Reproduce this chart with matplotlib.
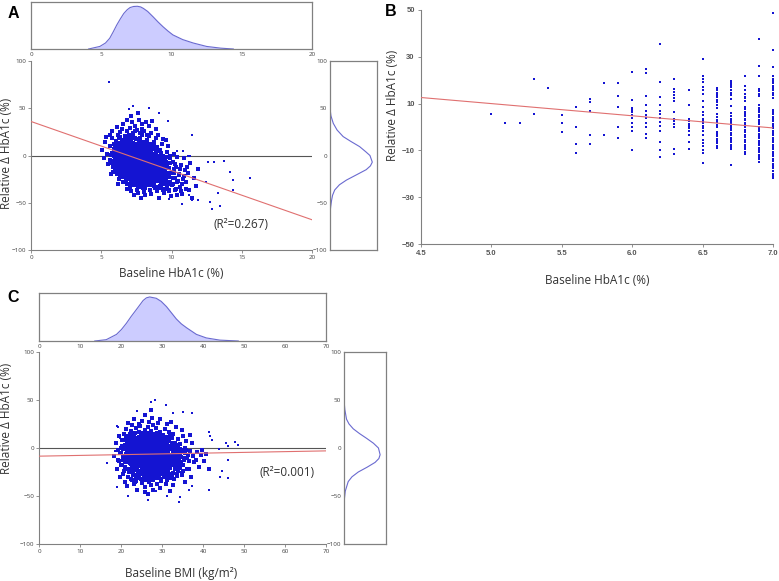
import numpy as np
import matplotlib.pyplot as plt

W, H = 779, 581

# ---- panel A: baseline HbA1c vs relative change ----
a_core = [
    (5.05, 6), (5.2, -3), (5.3, 14), (5.35, 20), (5.45, -9), (5.4, 2),
    (5.6, 10), (5.65, -5), (5.7, -20), (5.75, 3), (5.8, 18), (5.85, -12), (5.9, 7),
    (5.95, -2), (5.6, 22), (5.7, 1), (5.8, -8), (5.9, 12), (5.95, -15), (5.75, 26),
    (6.02, 3), (6.05, -6), (6.08, 15), (6.1, -18), (6.12, 8), (6.15, -1), (6.18, 22),
    (6.2, -10), (6.22, 5), (6.25, -25), (6.28, 12), (6.3, -4), (6.32, 0), (6.35, 18),
    (6.38, -14), (6.4, 7), (6.42, -8), (6.45, 28), (6.48, -2), (6.05, 10), (6.15, -12),
    (6.25, 2), (6.35, -20), (6.45, 11), (6.1, 30), (6.3, 25), (6.2, -30), (6.4, -3),
    (6.52, 2), (6.55, -9), (6.58, 14), (6.6, -3), (6.62, 6), (6.65, -16), (6.68, 20),
    (6.7, -6), (6.72, 0), (6.75, -24), (6.78, 9), (6.8, -12), (6.82, 4), (6.85, 26),
    (6.88, -1), (6.9, -19), (6.92, 11), (6.95, -7), (6.98, 3), (6.53, -28), (6.57, 33),
    (6.63, -11), (6.67, 8), (6.73, -4), (6.77, 16), (6.83, -30), (6.87, 1), (6.93, -14),
    (6.97, 22), (6.6, 12), (6.7, -20), (6.8, 38), (6.9, 5), (6.55, -2), (6.65, 0),
    (6.75, -8), (6.85, -35), (6.95, 14),
    (7.02, -2), (7.05, 8), (7.08, -13), (7.1, 3), (7.12, -22), (7.15, 15), (7.18, -6),
    (7.2, 0), (7.22, -17), (7.25, 24), (7.28, -9), (7.3, 5), (7.32, -1), (7.35, -28),
    (7.38, 11), (7.4, -4), (7.42, 19), (7.45, -14), (7.48, 2), (7.03, 29), (7.07, -33),
    (7.13, 10), (7.17, -26), (7.23, -7), (7.27, 13), (7.33, -19), (7.37, 31), (7.43, -11),
    (7.47, 6), (7.04, -5), (7.14, -38), (7.24, 20), (7.34, -3), (7.44, -24), (7.06, 1),
    (7.16, 35), (7.26, -15), (7.36, 7), (7.46, -30), (7.1, 42), (7.3, -42), (7.4, 26),
    (7.52, -4), (7.55, 6), (7.58, -15), (7.6, 1), (7.62, -24), (7.65, 12), (7.68, -8),
    (7.7, -2), (7.72, -19), (7.75, 18), (7.78, -11), (7.8, 3), (7.82, -6), (7.85, -29),
    (7.88, 9), (7.9, -13), (7.92, 22), (7.95, -1), (7.98, -34), (7.53, 27), (7.57, -37),
    (7.63, 8), (7.67, -27), (7.73, -9), (7.77, 15), (7.83, -21), (7.87, 33), (7.93, -16),
    (7.97, 4), (7.54, -7), (7.64, -40), (7.74, 24), (7.84, -3), (7.94, -25), (7.56, -1),
    (7.66, 38), (7.76, -17), (7.86, 5), (7.96, -31), (7.6, 45), (7.8, -45), (7.9, 28),
    (8.02, -6), (8.05, 4), (8.08, -17), (8.1, -1), (8.12, -26), (8.15, 10), (8.18, -10),
    (8.2, -3), (8.22, -21), (8.25, 16), (8.28, -13), (8.3, 1), (8.32, -8), (8.35, -31),
    (8.38, 7), (8.4, -15), (8.42, 21), (8.45, -4), (8.48, -36), (8.03, 26), (8.07, -39),
    (8.13, 5), (8.17, -28), (8.23, -11), (8.27, 12), (8.33, -23), (8.37, 31), (8.43, -18),
    (8.47, 2), (8.04, -9), (8.14, -42), (8.24, 22), (8.34, -5), (8.44, -27), (8.16, 35),
    (8.36, -19),
    (8.52, -9), (8.55, 2), (8.58, -20), (8.6, -4), (8.62, -29), (8.65, 8), (8.68, -13),
    (8.7, -6), (8.72, -24), (8.75, 14), (8.78, -16), (8.8, -1), (8.82, -11), (8.85, -34),
    (8.88, 5), (8.9, -18), (8.92, 18), (8.95, -7), (8.98, -38), (8.53, 24), (8.57, -41),
    (8.63, 0), (8.67, -31), (8.73, -14), (8.77, 10), (8.83, -26), (8.87, 28), (8.93, -21),
    (8.97, -3), (8.6, 36),
    (9.02, -12), (9.05, 0), (9.08, -23), (9.1, -6), (9.15, -32), (9.18, 6), (9.2, -16),
    (9.25, -9), (9.28, -27), (9.3, 12), (9.32, -19), (9.35, -3), (9.38, -36), (9.4, -14),
    (9.42, 17), (9.45, -25), (9.48, -40), (9.03, 22), (9.13, -45), (9.23, 3), (9.33, -11),
    (9.43, -30),
    (9.52, -15), (9.55, -4), (9.6, -26), (9.65, 4), (9.68, -33), (9.7, -10), (9.75, -20),
    (9.78, 10), (9.8, -38), (9.85, -13), (9.88, -28), (9.92, -1), (9.95, -43), (9.58, 16),
    (9.72, -23), (9.9, -8),
    (10.02, -18), (10.08, -7), (10.12, -30), (10.18, 2), (10.22, -24), (10.28, -37),
    (10.32, -12), (10.38, -42), (10.42, -2), (10.47, -27),
    (10.55, -20), (10.62, -33), (10.7, -10), (10.78, -41), (10.85, -25), (10.92, -3),
    (10.98, -15), (11.05, -28), (11.15, -19), (11.25, -36), (11.35, -8), (11.45, -45),
    (11.6, -24), (11.75, -32), (11.9, -14),
]
a_dense = [
    (5.82, -12), (5.86, -6), (5.9, -1), (5.94, 4), (5.98, 9), (6.02, 14), (5.84, -17),
    (5.88, 0), (5.92, 6), (5.96, -9), (6.0, 11), (6.04, -3),
    (6.07, -14), (6.11, -7), (6.14, -2), (6.17, 3), (6.21, 8), (6.24, 13), (6.27, 18),
    (6.09, -20), (6.13, 1), (6.16, -5), (6.19, 10), (6.23, -11), (6.26, 5), (6.29, -1),
    (6.31, -16), (6.34, -9), (6.37, -4), (6.4, 1), (6.43, 6), (6.46, 11), (6.49, 16),
    (6.33, -22), (6.36, 3), (6.39, -7), (6.42, 9), (6.45, -13), (6.48, 0), (6.32, 20),
    (6.47, -18),
    (6.51, -17), (6.54, -10), (6.57, -5), (6.6, 0), (6.63, 5), (6.66, 10), (6.69, 15),
    (6.52, -23), (6.56, 2), (6.59, -8), (6.62, 8), (6.65, -14), (6.68, -2), (6.71, 21),
    (6.74, -26), (6.58, 12), (6.72, -11),
    (6.76, -18), (6.79, -11), (6.82, -6), (6.85, -1), (6.88, 4), (6.91, 9), (6.94, 14),
    (6.77, -24), (6.8, 1), (6.83, -9), (6.86, 7), (6.89, -15), (6.92, -3), (6.95, 19),
    (6.98, -21), (6.81, 11), (6.97, -7), (6.84, -30),
    (7.01, -19), (7.04, -12), (7.07, -7), (7.1, -2), (7.13, 3), (7.16, 8), (7.19, 13),
    (7.02, -25), (7.05, 0), (7.08, -10), (7.11, 6), (7.14, -16), (7.17, -4), (7.2, 18),
    (7.23, -22), (7.06, 10), (7.22, -8), (7.09, -29), (7.18, 1),
    (7.26, -20), (7.29, -13), (7.32, -8), (7.35, -3), (7.38, 2), (7.41, 7), (7.44, 12),
    (7.27, -26), (7.3, -1), (7.33, -11), (7.36, 5), (7.39, -17), (7.42, -5), (7.45, 17),
    (7.48, -23), (7.31, 9), (7.47, -9), (7.34, -31), (7.43, 0),
    (7.51, -21), (7.54, -14), (7.57, -9), (7.6, -4), (7.63, 1), (7.66, 6), (7.69, 11),
    (7.52, -27), (7.55, -2), (7.58, -12), (7.61, 4), (7.64, -18), (7.67, -6), (7.7, 16),
    (7.73, -24), (7.56, 8), (7.72, -10), (7.59, -32), (7.68, -1),
    (7.76, -22), (7.79, -15), (7.82, -10), (7.85, -5), (7.88, 0), (7.91, 5), (7.94, 10),
    (7.77, -28), (7.8, -3), (7.83, -13), (7.86, 3), (7.89, -19), (7.92, -7), (7.95, 14),
    (7.98, -25), (7.81, 7), (7.97, -11), (7.84, -33),
    (8.01, -23), (8.04, -16), (8.07, -11), (8.1, -6), (8.13, -1), (8.16, 4), (8.19, 9),
    (8.02, -29), (8.05, -4), (8.08, -14), (8.11, 2), (8.14, -20), (8.17, -8), (8.2, 13),
    (8.23, -26), (8.06, 6), (8.22, -12), (8.09, -34),
    (8.26, -24), (8.29, -17), (8.32, -12), (8.35, -7), (8.38, -2), (8.41, 3), (8.44, 8),
    (8.27, -30), (8.3, -5), (8.33, -15), (8.36, 1), (8.39, -21), (8.42, -9), (8.45, 12),
    (8.48, -27), (8.31, 5), (8.47, -13),
    (8.51, -25), (8.54, -18), (8.57, -13), (8.6, -8), (8.63, -3), (8.66, 2), (8.69, 7),
    (8.52, -31), (8.55, -6), (8.58, -16), (8.61, 0), (8.64, -22), (8.67, -10), (8.7, 11),
    (8.73, -28), (8.56, 4),
    (8.76, -26), (8.79, -19), (8.82, -14), (8.85, -9), (8.88, -4), (8.91, 1), (8.94, 6),
    (8.77, -32), (8.8, -7), (8.83, -17), (8.86, -1), (8.89, -23), (8.92, -11), (8.95, 9),
    (9.01, -27), (9.04, -20), (9.07, -15), (9.1, -10), (9.13, -5), (9.16, 0), (9.19, 5),
    (9.02, -33), (9.05, -8), (9.08, -18), (9.11, -2), (9.14, -24), (9.17, -12),
    (9.26, -28), (9.29, -21), (9.32, -16), (9.35, -11), (9.38, -6), (9.41, -1),
    (9.27, -34), (9.3, -9), (9.33, -19), (9.36, -3), (9.39, -25),
    (9.51, -29), (9.54, -22), (9.57, -17), (9.6, -12), (9.63, -7), (9.66, -2),
    (9.55, -35), (9.59, -10), (9.62, -20),
    (9.76, -30), (9.79, -23), (9.82, -18), (9.85, -13), (9.88, -8), (9.81, -36),
    (9.86, -3),
    (10.05, -31), (10.1, -24), (10.15, -19), (10.2, -14), (10.25, -9), (10.3, -35),
    (10.4, -28), (10.5, -21), (10.6, -14), (10.65, -38), (10.75, -30), (10.9, -22),
    (11.0, -35), (11.1, -12),
]
a_outliers = [
    (5.55, 77.3), (7.28, 52.4), (6.97, 49.2), (8.40, 50.6), (9.09, 45.3), (9.77, 36.9),
    (11.48, 21.3), (13.76, -5.5), (12.62, -7.2), (13.0, -7.2), (14.19, -17.5),
    (14.38, -26.3), (15.59, -23.5), (14.35, -36.5), (13.33, -40), (12.76, -48.8),
    (13.43, -53), (12.88, -56.3), (10.75, -51), (11.44, -47.4), (11.89, -47.4),
    (9.85, -45.7), (11.22, -42.2), (12.43, -28), (10.37, 5.1), (10.8, 5.1), (11.3, 0),
    (11.15, -1), (5.34, 19.9), (5.3, 13.6), (5.0, 6.2), (5.45, -9.3), (5.73, -20.6),
]
a_fit_x = [0, 20]
a_fit_y = [36, -68]
a_top_x = [4.1, 4.9, 5.3, 5.6, 5.85, 6.1, 6.35, 6.6, 6.85, 7.05, 7.3, 7.57, 7.8, 8.0,
           8.3, 8.7, 9.05, 9.4, 9.75, 10.1, 10.8, 11.55, 12.5, 13.5, 14.4]
a_top_d = [0, 0.06, 0.14, 0.25, 0.4, 0.56, 0.7, 0.83, 0.92, 0.97, 0.995, 1.0, 0.985, 0.95,
           0.88, 0.75, 0.63, 0.52, 0.42, 0.33, 0.22, 0.14, 0.06, 0.02, 0.0]
a_right_y = [50, 42, 34, 27, 20, 15, 9.4, 4, 0, -7, -11, -15, -20, -26, -31, -36.5,
             -42, -47, -54, -61]
a_right_d = [0, 0.02, 0.07, 0.15, 0.28, 0.44, 0.63, 0.76, 0.85, 0.90, 0.86, 0.77, 0.58,
             0.35, 0.2, 0.10, 0.055, 0.035, 0.015, 0]

# ---- panel B: baseline HbA1c <= 7.0 ----
b_levels = [5.0, 5.1, 5.2, 5.3, 5.4, 5.5, 5.6, 5.7, 5.8, 5.9, 6.0, 6.1, 6.2, 6.3, 6.4,
            6.5, 6.6, 6.7, 6.8, 6.9, 7.0]
b_values = [
    [5.7], [1.7], [1.7], [20.6, 5.4], [16.6], [5.3, 1.6, -2.0],
    [8.7, -0.1, -7.3, -10.9],
    [12.1, 10.6, 7.0, -3.5, -7.1],
    [19.0, -3.5],
    [18.7, 13.4, 8.5, 0.1, -4.9],
    [23.4, 11.7, 8.3, 7.2, 6.2, 5.0, 3.8, 1.9, 0.1, -1.6, -9.9],
    [24.7, 23.0, 13.2, 9.3, 6.8, 5.0, 3.8, 1.9, 0.1, -3.2, -4.9],
    [35.5, 19.4, 12.9, 9.6, 6.8, 5.5, 3.9, 2.2, 0.4, -1.6, -6.5, -9.8, -12.7],
    [20.5, 16.1, 15.0, 13.7, 12.3, 11.0, 6.3, 3.4, 2.4, 1.3, -0.1, -9.6, -11.4],
    [15.7, 9.3, 3.4, 2.4, 1.3, 0.4, -0.6, -1.6, -3.5, -6.2, -9.5],
    [29.2, 21.7, 20.6, 19.1, 17.0, 15.9, 14.3, 11.3, 8.7, 6.3, 5.0, 3.6, 2.5, 1.5, 0.5,
     -0.6, -1.9, -3.3, -5.5, -6.9, -8.3, -10.0, -11.2, -15.4],
    [16.6, 15.6, 14.6, 13.7, 12.7, 11.7, 10.7, 9.3, 8.0, 5.7, 4.4, 3.2, 2.0, 1.0, -0.1,
     -2.0, -3.0, -4.0, -5.0, -6.0, -7.0, -8.0, -9.0],
    [19.8, 18.8, 17.8, 16.9, 15.9, 14.7, 13.7, 12.0, 8.9, 6.0, 4.9, 3.6, 2.6, 1.6, 0.6,
     -0.4, -1.4, -2.5, -3.5, -4.5, -5.5, -6.5, -7.5, -8.5, -9.2, -16.2],
    [22.0, 17.7, 15.6, 14.1, 13.0, 12.2, 11.3, 8.7, 7.6, 6.6, 5.6, 4.5, 3.6, 2.8, 1.8,
     0.8, -0.2, -1.2, -2.3, -3.3, -4.3, -5.5, -6.5, -7.5, -8.5, -9.5, -10.6, -11.6],
    [37.8, 26.1, 21.8, 16.3, 15.3, 14.3, 13.3, 9.2, 8.2, 7.2, 6.2, 5.2, 4.2, 3.2, 2.2,
     1.2, 0.2, -0.8, -1.8, -2.8, -3.8, -4.8, -5.8, -6.8, -7.8, -8.8, -9.8, -10.8, -11.8,
     -12.8, -13.8, -14.8],
    [48.6, 32.9, 25.8, 21.6, 20.6, 19.6, 18.6, 17.6, 16.6, 15.6, 14.6, 13.6, 12.6, 7.4,
     6.4, 5.4, 4.4, 3.4, 2.4, 1.4, 0.4, -0.6, -1.6, -2.6, -3.6, -4.6, -5.6, -6.6, -7.6,
     -8.6, -9.6, -10.6, -11.6, -12.6, -13.6, -14.6, -15.6, -16.6, -17.6, -18.6, -20.0,
     -21.0, -22.0],
]
b_fit_x = [4.5, 7.0]
b_fit_y = [12.6, -0.4]

# ---- panel C: baseline BMI vs relative change ----
c_core = [
    (18.3, -8), (18.7, 5), (19.0, -22), (19.2, -2), (19.5, -14), (19.6, 12), (19.8, -30),
    (19.9, 0),
    (20.1, -5), (20.2, 8), (20.3, -18), (20.4, -1), (20.6, -27), (20.7, 15), (20.8, -10),
    (20.9, 3), (21.0, -35), (21.1, -6), (21.2, 20), (21.3, -15), (21.4, -3), (21.5, 9),
    (21.6, -22), (21.7, -9), (21.8, 26), (21.9, 1), (20.5, -12), (21.5, -40),
    (22.05, -7), (22.1, 4), (22.15, -16), (22.2, 11), (22.25, -25), (22.3, -2), (22.35, 18),
    (22.4, -11), (22.45, 0), (22.5, -32), (22.55, 7), (22.6, -20), (22.65, -4), (22.7, 24),
    (22.75, -13), (22.8, 2), (22.85, -28), (22.9, 13), (22.95, -9), (23.0, -1), (23.05, -38),
    (23.1, 6), (23.15, -17), (23.2, 30), (23.25, -6), (23.3, -23), (23.35, 9), (23.4, -12),
    (23.45, -3), (23.5, 16), (23.55, -30), (23.6, 1), (23.65, -8), (23.7, -19), (23.75, 21),
    (23.8, -44), (23.85, 4), (23.9, -14),
    (24.05, -6), (24.1, 3), (24.15, -15), (24.2, 10), (24.25, -24), (24.3, -1), (24.35, 17),
    (24.4, -10), (24.45, 1), (24.5, -31), (24.55, 6), (24.6, -19), (24.65, -4), (24.7, 23),
    (24.75, -12), (24.8, 0), (24.85, -27), (24.9, 12), (24.95, -8), (25.0, -2), (25.05, -36),
    (25.1, 5), (25.15, -16), (25.2, 28), (25.25, -5), (25.3, -22), (25.35, 8), (25.4, -11),
    (25.45, -3), (25.5, 14), (25.55, -29), (25.6, 2), (25.65, -7), (25.7, -18), (25.75, 19),
    (25.8, -41), (25.85, 4), (25.9, -13), (25.95, 34), (24.12, -9), (24.38, -25),
    (24.62, 7), (24.88, -1), (25.12, -33), (25.38, 11), (25.62, -20), (25.88, -46),
    (24.5, 25),
    (26.02, -7), (26.06, 2), (26.1, -14), (26.14, 9), (26.18, -23), (26.22, -2), (26.26, 16),
    (26.3, -9), (26.34, 0), (26.38, -30), (26.42, 5), (26.46, -18), (26.5, -5), (26.54, 22),
    (26.58, -12), (26.62, 1), (26.66, -26), (26.7, 11), (26.74, -8), (26.78, -3),
    (26.82, -35), (26.86, 6), (26.9, -15), (26.94, 27), (26.98, -6), (27.02, -21),
    (27.06, 8), (27.1, -10), (27.14, -1), (27.18, 13), (27.22, -28), (27.26, 3), (27.3, -4),
    (27.34, -17), (27.38, 18), (27.42, -39), (27.46, -11), (27.5, 31), (27.54, -8),
    (27.58, -24), (27.62, 6), (27.66, -2), (27.7, -32), (27.74, 10), (27.78, -19),
    (27.82, -44), (27.86, 24), (27.9, -13), (27.94, -5), (27.98, 15), (26.6, -48),
    (27.3, 40),
    (28.04, -6), (28.08, 4), (28.12, -16), (28.16, 8), (28.2, -25), (28.24, -3), (28.28, 15),
    (28.32, -11), (28.36, 1), (28.4, -29), (28.44, 7), (28.48, -20), (28.52, -4),
    (28.56, 21), (28.6, -13), (28.64, -1), (28.68, -27), (28.72, 12), (28.76, -9),
    (28.8, -2), (28.84, -37), (28.88, 4), (28.92, -17), (28.96, 26), (29.0, -7),
    (29.04, -23), (29.08, 9), (29.12, -12), (29.16, 0), (29.2, 14), (29.24, -31),
    (29.28, 2), (29.32, -8), (29.36, -19), (29.4, 17), (29.44, -42), (29.48, 5),
    (29.52, -14), (29.56, 30), (29.6, -10), (29.64, -26), (29.7, 7), (29.76, -3),
    (29.82, -34), (29.88, 11), (29.94, -21),
    (30.05, -7), (30.1, 3), (30.15, -17), (30.2, 9), (30.25, -26), (30.3, -2), (30.35, 14),
    (30.4, -11), (30.45, 0), (30.5, -30), (30.55, 6), (30.6, -20), (30.65, -5), (30.7, 20),
    (30.75, -13), (30.8, -1), (30.85, -28), (30.9, 11), (30.95, -9), (31.0, -3),
    (31.05, -38), (31.1, 4), (31.2, -16), (31.3, 25), (31.4, -6), (31.5, -23), (31.6, 8),
    (31.7, -12), (31.8, -1), (31.9, 13), (31.15, -33), (31.35, 2), (31.55, -18),
    (31.75, 17), (31.95, -45), (31.25, -9),
    (32.1, -8), (32.2, 2), (32.3, -18), (32.4, 10), (32.5, -27), (32.6, -3), (32.7, 15),
    (32.8, -12), (32.9, 0), (33.0, -32), (33.1, 5), (33.2, -21), (33.3, -6), (33.4, 22),
    (33.5, -14), (33.6, -1), (33.7, -29), (33.8, 9), (33.9, -10), (32.15, 27),
    (32.65, -39), (33.15, -16), (33.55, 3), (33.85, -24),
    (34.1, -9), (34.3, 4), (34.5, -20), (34.7, -2), (34.9, -28), (35.1, 12), (35.3, -13),
    (35.5, -5), (35.7, -35), (35.9, 7), (34.4, -15), (34.8, 19), (35.2, -24), (35.6, 0),
    (36.2, -10), (36.5, -22), (36.8, -3), (37.1, -30), (37.4, 5), (37.7, -15), (36.9, 14),
    (37.6, -8), (38.2, -12), (38.6, -4), (39.0, -20), (39.4, -7), (39.8, -2),
    (40.3, -14), (40.8, -6), (41.4, -22),
]
c_dense = [
    (19.3, -12), (19.7, -5), (20.0, -18), (20.3, 2), (20.5, -8), (20.7, -24), (20.85, 8),
    (20.95, -14),
    (21.05, -20), (21.15, -12), (21.25, -6), (21.35, 0), (21.45, 6), (21.55, -15),
    (21.65, -3), (21.75, -9), (21.85, 3), (21.95, -25), (21.2, 12), (21.7, -30),
    (22.02, -22), (22.1, -14), (22.18, -8), (22.26, -2), (22.34, 4), (22.42, 10),
    (22.5, -17), (22.58, -5), (22.66, -11), (22.74, 1), (22.82, -27), (22.9, 7),
    (22.98, -19), (22.22, 15), (22.62, -33), (22.86, -13),
    (23.02, -23), (23.1, -15), (23.18, -9), (23.26, -3), (23.34, 3), (23.42, 9),
    (23.5, -18), (23.58, -6), (23.66, -12), (23.74, 0), (23.82, -28), (23.9, 6),
    (23.98, -20), (23.22, 14), (23.62, -34), (23.86, -14), (23.46, -1), (23.14, -8),
    (24.02, -21), (24.08, -13), (24.14, -7), (24.2, -1), (24.26, 5), (24.32, 11),
    (24.38, -16), (24.44, -4), (24.5, -10), (24.56, 2), (24.62, -26), (24.68, 8),
    (24.74, -18), (24.8, 16), (24.86, -32), (24.92, -12), (24.98, -2), (24.11, -24),
    (24.47, -7), (24.83, -5),
    (25.02, -22), (25.08, -14), (25.14, -8), (25.2, -2), (25.26, 4), (25.32, 10),
    (25.38, -17), (25.44, -5), (25.5, -11), (25.56, 1), (25.62, -27), (25.68, 7),
    (25.74, -19), (25.8, 15), (25.86, -33), (25.92, -13), (25.98, -3), (25.11, -25),
    (25.47, -8), (25.83, -6),
    (26.02, -21), (26.07, -13), (26.12, -7), (26.17, -1), (26.22, 5), (26.27, 11),
    (26.32, -16), (26.37, -4), (26.42, -10), (26.47, 2), (26.52, -26), (26.57, 8),
    (26.62, -18), (26.67, 16), (26.72, -32), (26.77, -12), (26.82, -2), (26.87, -24),
    (26.92, -7), (26.97, -5), (26.44, -15), (26.84, 3),
    (27.02, -22), (27.07, -14), (27.12, -8), (27.17, -2), (27.22, 4), (27.27, 10),
    (27.32, -17), (27.37, -5), (27.42, -11), (27.47, 1), (27.52, -27), (27.57, 7),
    (27.62, -19), (27.67, 15), (27.72, -33), (27.77, -13), (27.82, -3), (27.87, -25),
    (27.92, -8), (27.97, -6), (27.44, -16), (27.84, 2),
    (28.02, -21), (28.08, -13), (28.14, -7), (28.2, -1), (28.26, 5), (28.32, 11),
    (28.38, -16), (28.44, -4), (28.5, -10), (28.56, 2), (28.62, -26), (28.68, 8),
    (28.74, -18), (28.8, 16), (28.86, -31), (28.92, -12), (28.98, -2), (28.11, -24),
    (28.47, -7), (28.83, -5),
    (29.02, -22), (29.08, -14), (29.14, -8), (29.2, -2), (29.26, 4), (29.32, 10),
    (29.38, -17), (29.44, -5), (29.5, -11), (29.56, 1), (29.62, -27), (29.68, 7),
    (29.74, -19), (29.8, 14), (29.86, -32), (29.92, -13), (29.98, -3), (29.47, -24),
    (30.04, -21), (30.1, -13), (30.17, -7), (30.24, -1), (30.31, 5), (30.38, -16),
    (30.45, -4), (30.52, -10), (30.59, 2), (30.66, -26), (30.73, 8), (30.8, -18),
    (30.87, -30), (30.94, -12), (30.2, 12), (30.6, -23),
    (31.05, -22), (31.12, -14), (31.19, -8), (31.26, -2), (31.33, 4), (31.4, -17),
    (31.47, -5), (31.54, -11), (31.61, 1), (31.68, -27), (31.75, 7), (31.82, -19),
    (31.89, -31), (31.96, -13),
    (32.05, -21), (32.14, -13), (32.23, -7), (32.32, -1), (32.41, 5), (32.5, -16),
    (32.59, -4), (32.68, -10), (32.77, -26), (32.86, -18), (32.95, 2), (32.4, -30),
    (33.05, -22), (33.15, -14), (33.25, -8), (33.35, -2), (33.45, -17), (33.55, -5),
    (33.65, -11), (33.75, -27), (33.85, 3), (33.95, -19),
    (34.1, -21), (34.2, -12), (34.35, -6), (34.5, -1), (34.6, -17), (34.75, -9),
    (34.85, -26), (34.95, -4),
    (35.2, -18), (35.5, -10), (35.8, -2), (36.1, -22), (36.4, -7), (36.7, -14),
]
c_outliers = [
    (28.4, 50.3), (27.2, 48.3), (30.9, 45.1), (23.8, 38.2), (35.2, 37.5), (37.3, 36.5),
    (32.7, 36.8), (41.5, 16.3), (41.8, 12.2), (42.3, 8), (45.6, 5.2), (46.1, 2.4),
    (47.8, 6.6), (48.5, 2.8), (43.8, -1.4), (46.1, -12), (44.7, -24), (44.1, -30),
    (46.2, -31.6), (41.5, -43.8), (36.6, -44), (37.2, -40), (34.3, -51.4), (34.1, -56.3),
    (31.3, -50.3), (26.7, -54.2), (21.7, -49.7), (19.0, -40.3), (16.6, -16), (18.5, -3),
    (19.0, 23.3), (19.3, 21.9), (19.7, 10.4), (23.6, -36.5), (28.6, -45),
]
c_fit_x = [0, 70]
c_fit_y = [-8.5, -3]
c_top_x = [13.6, 16.4, 18.9, 20.1, 21.3, 22.5, 23.8, 25.4, 26.2, 27.0, 28.6, 29.8, 31.1,
           32.3, 33.5, 34.7, 36.0, 38.4, 40.8, 44.1, 48.6]
c_top_d = [0, 0.03, 0.15, 0.26, 0.4, 0.56, 0.72, 0.92, 0.98, 1.0, 0.97, 0.9, 0.78,
           0.64, 0.5, 0.39, 0.3, 0.15, 0.07, 0.02, 0]
c_right_y = [50, 40, 30, 25, 20, 15, 10, 5, 0, -7, -11, -15, -20, -25, -30, -35, -45,
             -52, -60]
c_right_d = [0, 0.02, 0.06, 0.12, 0.22, 0.37, 0.54, 0.7, 0.82, 0.86, 0.83, 0.74, 0.55,
             0.34, 0.19, 0.1, 0.03, 0.012, 0]

DOT = "#1414d2"
GRAY = "#808080"
TXT = "#333333"
FILL = "#ccccff"
EDGE = "#6a6ad0"
FIT = "#e07070"
YLAB = "Relative \u0394 HbA1c (%)"

plt.rcParams["font.family"] = ["Open Sans", "DejaVu Sans"]

fig = plt.figure(figsize=(W / 100, H / 100), dpi=100)


def box(x0, y0, x1, y1):
    return [x0 / W, 1 - y1 / H, (x1 - x0) / W, (y1 - y0) / H]


def style_main(ax):
    for s in ("top", "right"):
        ax.spines[s].set_visible(False)
    for s in ("left", "bottom"):
        ax.spines[s].set_color(GRAY)
        ax.spines[s].set_linewidth(0.8)
    ax.tick_params(length=2, width=0.6, color=GRAY, labelsize=4.5,
                   labelcolor="#444444", pad=1.5)


def style_box(ax):
    for s in ax.spines.values():
        s.set_color(GRAY)
        s.set_linewidth(0.9)
    ax.tick_params(length=0, labelsize=4.5, labelcolor="#444444", pad=2)


def scatter_panel(ax, cloud, outl, fit_x, fit_y, xlim, xticks):
    pts = np.array(cloud)
    ax.scatter(pts[:, 0], pts[:, 1], s=5, marker="s", color=DOT, linewidths=0, zorder=3)
    far = np.array(outl)
    ax.scatter(far[:, 0], far[:, 1], s=3.5, marker="s", color=DOT, linewidths=0, zorder=3)
    ax.axhline(0, color="#555555", lw=0.8, zorder=2)
    ax.plot(fit_x, fit_y, color=FIT, lw=0.8, zorder=4)
    ax.set_xlim(*xlim)
    ax.set_ylim(-100, 100)
    ax.set_xticks(xticks)
    ax.set_yticks([-100, -50, 0, 50, 100])
    style_main(ax)


def top_panel(ax, dx, dy, xlim, xticks, top):
    ax.fill_between(dx, dy, 0, color=FILL, lw=0)
    ax.plot(dx, dy, color=EDGE, lw=0.8)
    ax.set_xlim(*xlim)
    ax.set_ylim(0, top)
    ax.set_xticks(xticks)
    ax.set_yticks([])
    style_box(ax)


def right_panel(ax, dy, dd, xmax):
    ax.plot(dd, dy, color=EDGE, lw=0.8)
    ax.set_xlim(0, xmax)
    ax.set_ylim(-100, 100)
    ax.set_xticks([])
    ax.set_yticks([-100, -50, 0, 50, 100])
    style_box(ax)


# A
ax = fig.add_axes(box(31, 61, 312, 250))
scatter_panel(ax, a_core + a_dense, a_outliers, a_fit_x, a_fit_y, (0, 20),
              [0, 5, 10, 15, 20])
ax.text(13.0, -72.5, "(R\u00b2=0.267)", fontsize=8.5, color=TXT, va="center")
top_panel(fig.add_axes(box(31, 2, 312, 49)), a_top_x, a_top_d, (0, 20),
          [0, 5, 10, 15, 20], 1.1)
right_panel(fig.add_axes(box(330, 61, 377, 250)), a_right_y, a_right_d, 1.0)
fig.text(7 / W, 1 - 153 / H, YLAB, rotation=90, ha="center", va="center",
         fontsize=8.5, color=TXT)
fig.text(171 / W, 1 - 273 / H, "Baseline HbA1c (%)", ha="center", va="center",
         fontsize=8.5, color=TXT)

# B
axb = fig.add_axes(box(421, 10, 773, 244))
bx = [lv for lv, vals in zip(b_levels, b_values) for _ in vals]
by = [v for vals in b_values for v in vals]
axb.scatter(bx, by, s=4.5, marker="s", color=DOT, linewidths=0, zorder=3, clip_on=False)
axb.plot(b_fit_x, b_fit_y, color=FIT, lw=0.8, zorder=4)
axb.set_xlim(4.5, 7.0)
axb.set_ylim(-50, 50)
axb.set_xticks([4.5, 5.0, 5.5, 6.0, 6.5, 7.0])
axb.set_xticklabels(["4.5", "5.0", "5.5", "6.0", "6.5", "7.0"])
axb.set_yticks([-50, -30, -10, 10, 30, 50])
style_main(axb)
axb.tick_params(labelsize=5.5, length=2.5, pad=2, labelcolor="#555555")
for t in axb.get_xticklabels() + axb.get_yticklabels():
    t.set_fontweight("bold")
    t.set_family("Liberation Sans")
fig.text(393 / W, 1 - 105 / H, YLAB, rotation=90, ha="center", va="center",
         fontsize=8.5, color=TXT)
fig.text(597 / W, 1 - 280 / H, "Baseline HbA1c (%)", ha="center", va="center",
         fontsize=8.5, color=TXT)

# C
axc = fig.add_axes(box(39, 352, 326, 544))
scatter_panel(axc, c_core + c_dense, c_outliers, c_fit_x, c_fit_y, (0, 70),
              list(range(0, 71, 10)))
axc.text(53.9, -25, "(R\u00b2=0.001)", fontsize=8.5, color=TXT, va="center")
top_panel(fig.add_axes(box(39, 293, 326, 341)), c_top_x, c_top_d, (0, 70),
          list(range(0, 71, 10)), 1.09)
right_panel(fig.add_axes(box(344, 352, 386, 544)), c_right_y, c_right_d, 1.0)
fig.text(7 / W, 1 - 418 / H, YLAB, rotation=90, ha="center", va="center",
         fontsize=8.5, color=TXT)
fig.text(181 / W, 1 - 573 / H, "Baseline BMI (kg/m\u00b2)", ha="center", va="center",
         fontsize=8.5, color=TXT)

for lab, x, y in (("A", 13, 13), ("B", 391, 12), ("C", 13, 298)):
    fig.text(x / W, 1 - y / H, lab, ha="center", va="center", fontsize=11.5,
             fontweight="bold", family="Liberation Sans")

fig.savefig("out.png", dpi=100)
